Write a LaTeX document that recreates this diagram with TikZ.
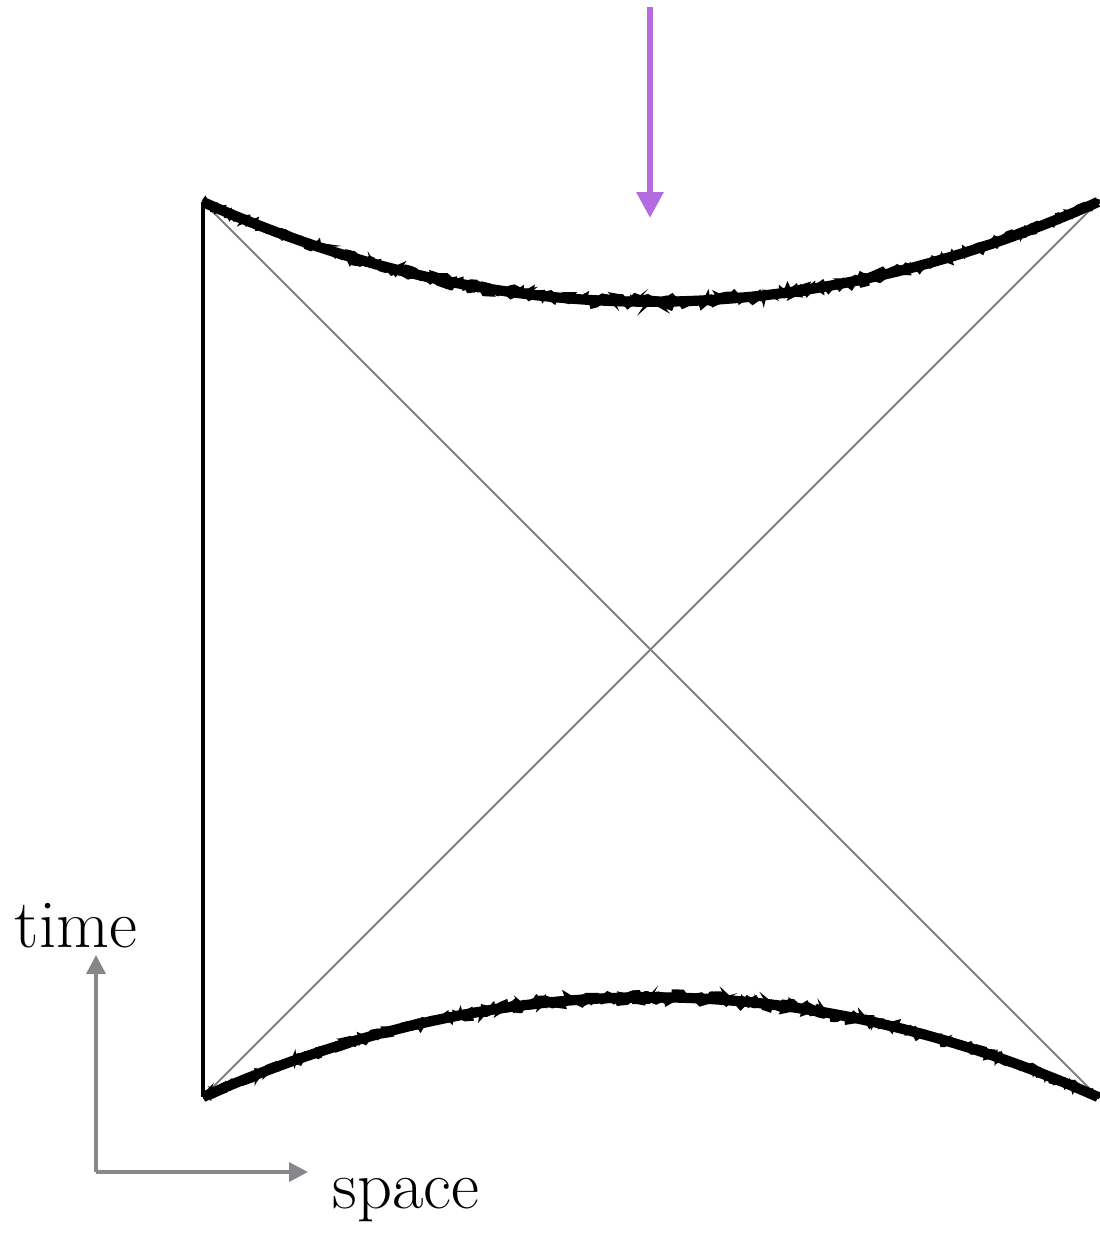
\documentclass[tikz,border=0pt]{standalone}
\usepackage{xcolor}
\usepackage{tikz}
\usetikzlibrary{arrows.meta,decorations.pathmorphing}
\definecolor{infall}{HTML}{B36BE0}
\definecolor{axisgray}{HTML}{85878B}
\begin{document}
\begin{tikzpicture}[
 x=0.1mm,y=-0.1mm,
 bdry/.style={line width=1.3pt,black},
 horizon/.style={line width=0.55pt,gray},
 sing/.style={line width=2.9pt,black},
 rough/.style={decorate,decoration={random steps,segment length=1.3pt,amplitude=1.2pt},line width=1pt,black},
 arr/.style={-{Triangle[length=7.4pt,width=7.4pt]},line width=1.7pt,infall},
 axarr/.style={-{Triangle[length=5.4pt,width=5.4pt]},line width=1pt,axisgray},
 lbl/.style={font=\fontsize{19.5}{22}\selectfont,inner sep=0pt,anchor=base}
]
\useasboundingbox (0,0) rectangle (1100,1233);
% corners of the diagram
\coordinate (tl) at (203,202);
\coordinate (tr) at (1098,202);
\coordinate (bl) at (203,1097);
\coordinate (br) at (1098,1097);
% left boundary and horizons
\draw[bdry] (tl)--(bl);
\draw[horizon] (tl)--(br);
\draw[horizon] (bl)--(tr);
% singularities
\draw[sing] (tl) .. controls (501,335) and (800,335) .. (tr);
\draw[sing] (bl) .. controls (501,964) and (800,964) .. (br);
\pgfmathsetseed{7}
\foreach \d in {-4,-1,2,4}{
 \draw[rough,yshift=\d*0.1mm] (tl) .. controls (501,335) and (800,335) .. (tr);
 \draw[rough,yshift=\d*0.1mm] (bl) .. controls (501,964) and (800,964) .. (br);
}
% infalling arrow
\coordinate (a0) at (650,7);
\coordinate (a1) at (650,218);
\draw[arr] (a0)--(a1);
% axes
\coordinate (o) at (96,1172);
\coordinate (tt) at (96,955);
\coordinate (st) at (308,1172);
\draw[axarr] (o)--(tt);
\draw[axarr] (o)--(st);
\node[lbl] (time) at (76,947) {time};
\node[lbl] (space) at (406,1208) {space};
\end{tikzpicture}
\end{document}
